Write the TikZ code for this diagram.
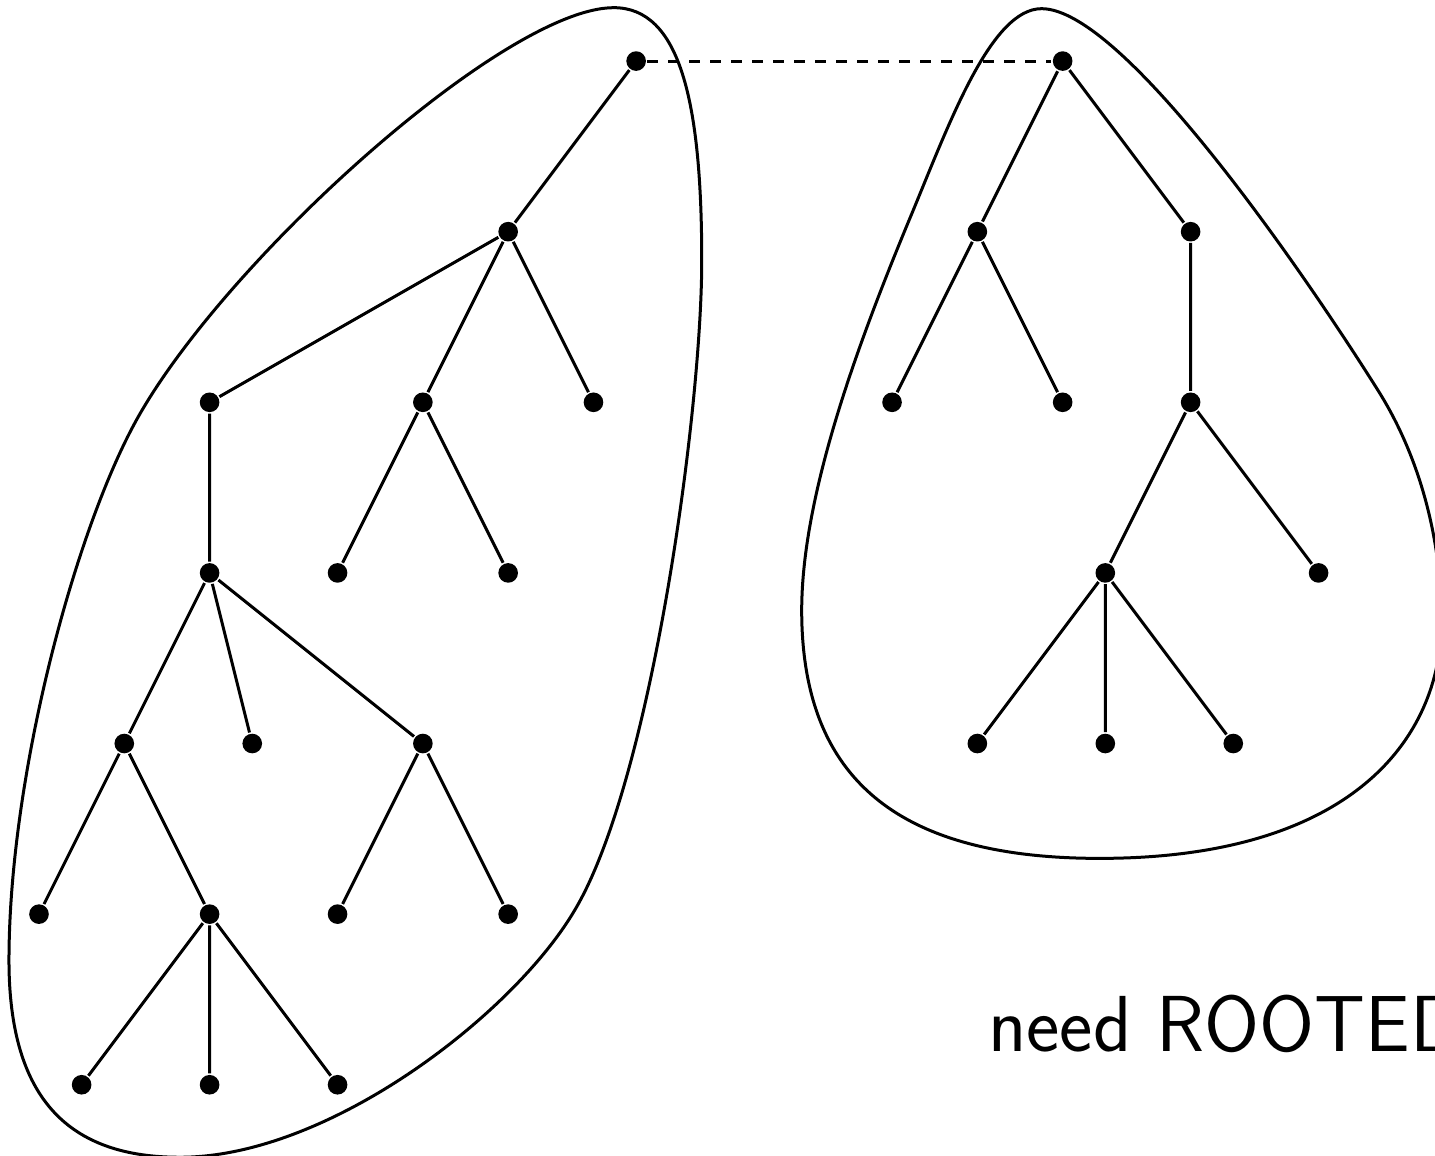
\documentclass[tikz,border=0pt]{standalone}

\begin{document}
\begin{tikzpicture}[
    x = 0.5cm, y = 2cm,
    line width = 1pt,
    dot/.style = {circle, fill, inner sep = 0pt, minimum size = 0.23cm},
    link/.style = {dash pattern = on 3.6pt off 3.4pt}]

\useasboundingbox (-0.914,-0.416) rectangle (32.73,6.358);

\begin{scope}[x = 0.0117233cm, y = -0.0117233cm, shift = {(-0.4572cm,12.7080cm)}]
\draw (614,7) .. controls (680,7) and (702,100) .. (702,260)
	  .. controls (702,410) and (652,778) .. (576,908)
	  .. controls (516,1012) and (330,1157) .. (180,1157)
	  .. controls (70,1157) and (9,1100) .. (9,960)
	  .. controls (9,780) and (72,541) .. (133,426)
	  .. controls (217,267) and (504,7) .. cycle;
\draw (1042,8) .. controls (1122,8) and (1298,262) .. (1378,389)
	  .. controls (1421,457) and (1442,540) .. (1442,620)
	  .. controls (1442,740) and (1350,858) .. (1100,858)
	  .. controls (900,858) and (802,780) .. (802,610)
	  .. controls (802,490) and (863,331) .. (913,211)
	  .. controls (951,119) and (992,8) .. cycle;
\end{scope}

\path (14,6) node[dot](lr) {}
	  (11,5) node[dot](la) {}
	  (4,4) node[dot](lb) {}
	  (9,4) node[dot](lc) {}
	  (13,4) node[dot](ld) {}
	  (7,3) node[dot](lc1) {}
	  (11,3) node[dot](lc2) {}
	  (4,3) node[dot](le) {}
	  (2,2) node[dot](lf) {}
	  (5,2) node[dot](lg) {}
	  (9,2) node[dot](lh) {}
	  (0,1) node[dot](lf1) {}
	  (4,1) node[dot](li) {}
	  (7,1) node[dot](lh1) {}
	  (11,1) node[dot](lh2) {}
	  (1,0) node[dot](li1) {}
	  (4,0) node[dot](li2) {}
	  (7,0) node[dot](li3) {};

\path (24,6) node[dot](rr) {}
	  (22,5) node[dot](ra) {}
	  (27,5) node[dot](rb) {}
	  (20,4) node[dot](ra1) {}
	  (24,4) node[dot](ra2) {}
	  (27,4) node[dot](rc) {}
	  (25,3) node[dot](rd) {}
	  (30,3) node[dot](re) {}
	  (22,2) node[dot](rd1) {}
	  (25,2) node[dot](rd2) {}
	  (28,2) node[dot](rd3) {};

\draw (lr) -- (la)
	  (la) -- (lb)
	  (la) -- (lc)
	  (la) -- (ld)
	  (lc) -- (lc1)
	  (lc) -- (lc2)
	  (lb) -- (le)
	  (le) -- (lf)
	  (le) -- (lg)
	  (le) -- (lh)
	  (lf) -- (lf1)
	  (lf) -- (li)
	  (lh) -- (lh1)
	  (lh) -- (lh2)
	  (li) -- (li1)
	  (li) -- (li2)
	  (li) -- (li3);

\draw (rr) -- (ra)
	  (rr) -- (rb)
	  (ra) -- (ra1)
	  (ra) -- (ra2)
	  (rb) -- (rc)
	  (rc) -- (rd)
	  (rc) -- (re)
	  (rd) -- (rd1)
	  (rd) -- (rd2)
	  (rd) -- (rd3);

\draw[link] (lr) -- (rr);

\node[anchor=base west, inner sep=0pt,
	  font=\sffamily\fontsize{26.5}{32}\selectfont] (note) at (22.22,0.194)
	  {need ROOTED};
\end{tikzpicture}
\end{document}
